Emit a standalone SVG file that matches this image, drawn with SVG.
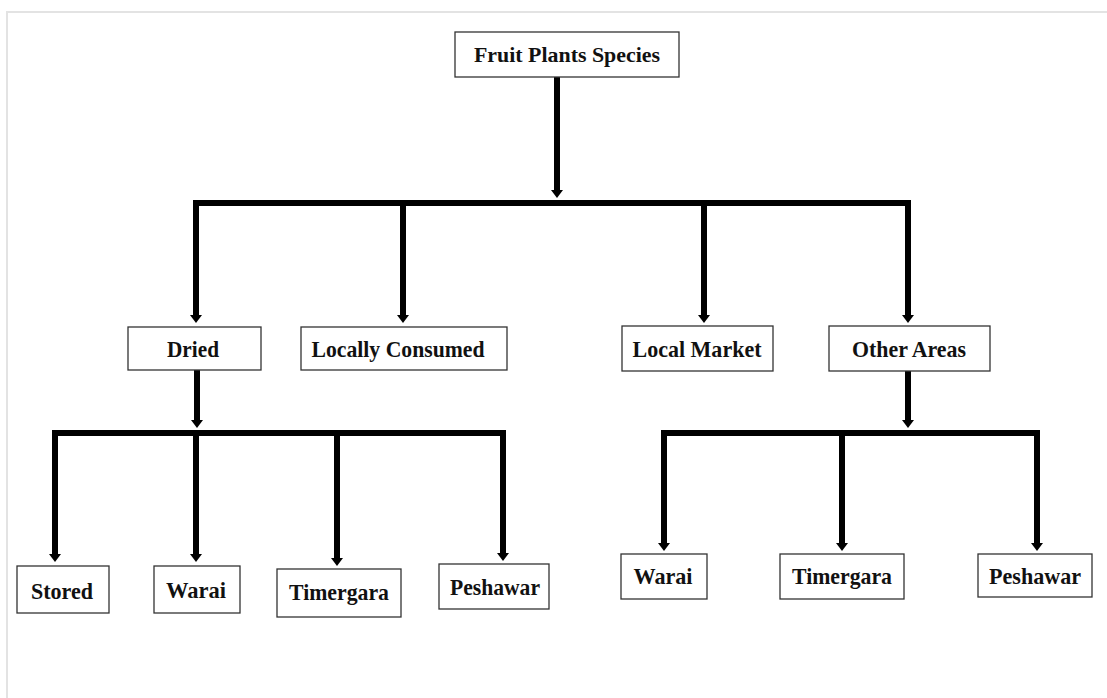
<svg xmlns="http://www.w3.org/2000/svg" width="1107" height="698" viewBox="0 0 1107 698">
<style>
.box{fill:#fff;stroke:#333;stroke-width:1.3}
.lbl{font-family:"Liberation Serif","Times New Roman",serif;font-weight:bold;font-size:24px;fill:#111;text-anchor:middle}
.top{font-size:22px}
.mid{font-size:23px}
.ln{stroke:#000;stroke-width:6;fill:none}
.ar{marker-end:url(#ah)}
</style>
<defs>
<marker id="ah" markerUnits="userSpaceOnUse" markerWidth="10" markerHeight="14" refX="0" refY="0" viewBox="0 -7 9 14" orient="auto">
<path d="M0,-6 L8,0 L0,6 z" fill="#000"/>
</marker>
</defs>
<rect x="0" y="0" width="1107" height="698" fill="#fff"/>
<path d="M7,698 V12 H1107" fill="none" stroke="#e3e3e3" stroke-width="2"/>
<g id="connectors">
<path class="ln ar" d="M557,77 V190"/>
<path class="ln" d="M193,203 H911"/>
<path class="ln ar" d="M196,200 V315"/>
<path class="ln ar" d="M403,203 V315"/>
<path class="ln ar" d="M704,203 V315"/>
<path class="ln ar" d="M908,200 V315"/>
<path class="ln ar" d="M197,370 V420"/>
<path class="ln" d="M52,433 H506"/>
<path class="ln ar" d="M55,430 V554"/>
<path class="ln ar" d="M196,433 V554"/>
<path class="ln ar" d="M337,433 V558"/>
<path class="ln ar" d="M503,430 V553"/>
<path class="ln ar" d="M908,371 V420"/>
<path class="ln" d="M661,433 H1040"/>
<path class="ln ar" d="M664,430 V543"/>
<path class="ln ar" d="M842,433 V543"/>
<path class="ln ar" d="M1037,430 V543"/>
</g>
<g id="fruit-plants-species"><rect class="box" x="455" y="32" width="224" height="45"/><text class="lbl top" x="567" y="62" textLength="186" lengthAdjust="spacingAndGlyphs">Fruit Plants Species</text></g>
<g id="dried"><rect class="box" x="128" y="327" width="133" height="43"/><text class="lbl mid" x="193" y="357" textLength="52" lengthAdjust="spacingAndGlyphs">Dried</text></g>
<g id="locally-consumed"><rect class="box" x="301" y="327" width="206" height="43"/><text class="lbl mid" x="398" y="357" textLength="173" lengthAdjust="spacingAndGlyphs">Locally Consumed</text></g>
<g id="local-market"><rect class="box" x="622" y="326" width="151" height="45"/><text class="lbl mid" x="697" y="357" textLength="129" lengthAdjust="spacingAndGlyphs">Local Market</text></g>
<g id="other-areas"><rect class="box" x="829" y="326" width="161" height="45"/><text class="lbl mid" x="909" y="357" textLength="114" lengthAdjust="spacingAndGlyphs">Other Areas</text></g>
<g id="stored"><rect class="box" x="17" y="566" width="92" height="47"/><text class="lbl" x="62" y="599" textLength="62" lengthAdjust="spacingAndGlyphs">Stored</text></g>
<g id="warai-1"><rect class="box" x="154" y="566" width="86" height="47"/><text class="lbl" x="196" y="598" textLength="60" lengthAdjust="spacingAndGlyphs">Warai</text></g>
<g id="timergara-1"><rect class="box" x="277" y="569" width="124" height="48"/><text class="lbl" x="339" y="600" textLength="100" lengthAdjust="spacingAndGlyphs">Timergara</text></g>
<g id="peshawar-1"><rect class="box" x="439" y="564" width="110" height="45"/><text class="lbl" x="495" y="595" textLength="90" lengthAdjust="spacingAndGlyphs">Peshawar</text></g>
<g id="warai-2"><rect class="box" x="621" y="554" width="86" height="45"/><text class="lbl" x="663" y="584" textLength="59" lengthAdjust="spacingAndGlyphs">Warai</text></g>
<g id="timergara-2"><rect class="box" x="780" y="554" width="124" height="45"/><text class="lbl" x="842" y="584" textLength="100" lengthAdjust="spacingAndGlyphs">Timergara</text></g>
<g id="peshawar-2"><rect class="box" x="978" y="554" width="114" height="43"/><text class="lbl" x="1035" y="584" textLength="92" lengthAdjust="spacingAndGlyphs">Peshawar</text></g>
</svg>
